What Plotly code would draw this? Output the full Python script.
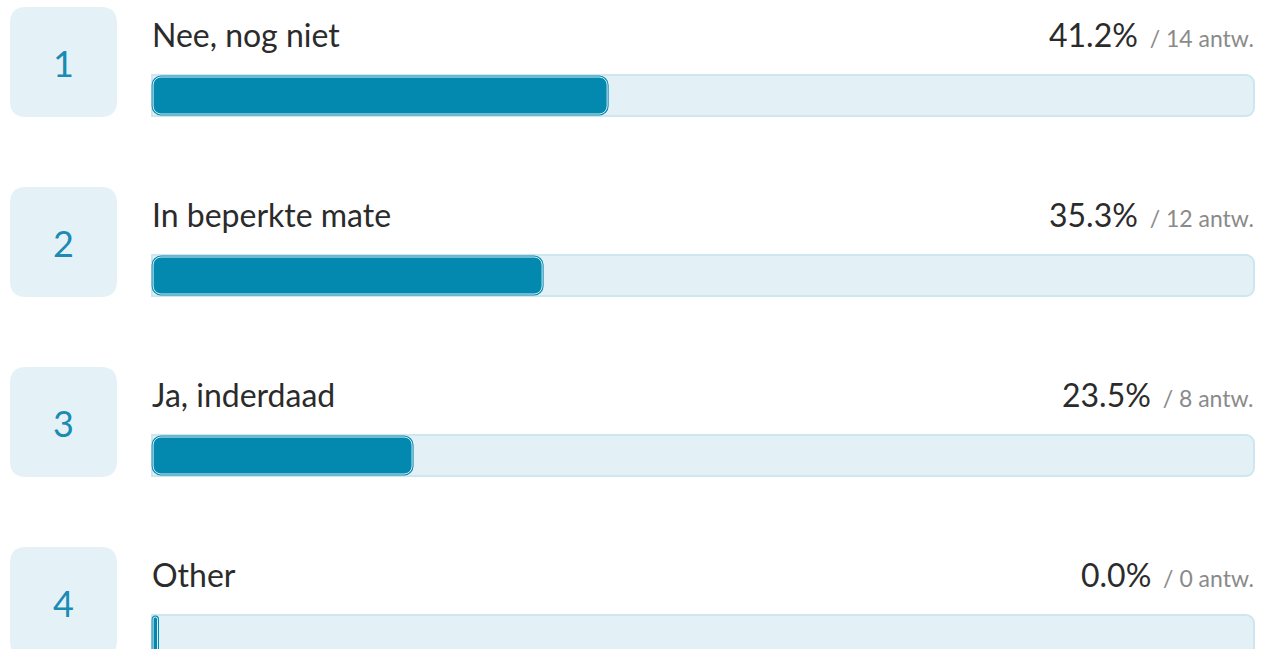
import plotly.graph_objects as go
import numpy as np

# ---- data ----
ranks = ["1", "2", "3", "4"]
labels = ["Nee, nog niet", "In beperkte mate", "Ja, inderdaad", "Other"]
percents = [41.2, 35.3, 23.5, 0.0]
counts = [14, 12, 8, 0]

# ---- layout geometry (pixels) ----
W, H = 1267, 649
TRACK_L, TRACK_R = 152, 1254
ROW0, PITCH = 95.5, 180
BAR_H = 41

px_per_unit = (TRACK_R - TRACK_L) / 100.0
x_range = [-TRACK_L / px_per_unit, (W - TRACK_L) / px_per_unit]
y_range = [(H - ROW0) / PITCH, -ROW0 / PITCH]


def px2x(p):
    return (p - TRACK_L) / px_per_unit


def dpy(d):
    return d / PITCH


def rounded_rect(x0p, x1p, ycen, top_off, bot_off, rp):
    """rounded rect path; x in px, y offsets in px relative to row center (data)."""
    x0, x1 = px2x(x0p), px2x(x1p)
    y0, y1 = ycen + dpy(top_off), ycen + dpy(bot_off)
    rx, ry = rp / px_per_unit, dpy(rp)
    return (f"M{x0+rx},{y0} L{x1-rx},{y0} Q{x1},{y0} {x1},{y0+ry} "
            f"L{x1},{y1-ry} Q{x1},{y1} {x1-rx},{y1} L{x0+rx},{y1} "
            f"Q{x0},{y1} {x0},{y1-ry} L{x0},{y0+ry} Q{x0},{y0} {x0+rx},{y0} Z")


TEAL = "#0388b0"
TRACK = "#e3f1f6"
TRACK_LINE = "#cde6ef"
TEXT = "#2b2b2b"
GREY = "#8a8a8a"
FONT = "Source Sans Pro, Lato, sans-serif"

rows = list(range(len(labels)))
min_visible = 0.4
disp = np.maximum(np.array(percents), min_visible)

fig = go.Figure()
fig.add_trace(go.Bar(
    y=rows, x=[100] * len(rows), orientation="h", width=BAR_H / PITCH,
    marker=dict(color=TRACK, line=dict(color=TRACK_LINE, width=2), cornerradius=8),
    hoverinfo="skip", showlegend=False))
fig.add_trace(go.Bar(
    y=rows, x=disp, orientation="h", width=(BAR_H - 4) / PITCH, base=0.1,
    marker=dict(color=TEAL, line=dict(color=TEAL, width=3), cornerradius=8),
    hoverinfo="skip", showlegend=False))
fig.add_trace(go.Bar(
    y=rows, x=disp, orientation="h", width=(BAR_H - 4) / PITCH, base=0.1,
    marker=dict(color=TEAL, line=dict(color="rgba(255,255,255,0.85)", width=1), cornerradius=8),
    hoverinfo="skip", showlegend=False))

shapes = []
annotations = []
for r in rows:
    shapes.append(dict(type="path", xref="x", yref="y",
                       path=rounded_rect(10, 117, r, -88.5, 21.5, 16),
                       fillcolor="#e4f2f7", line=dict(width=0), layer="below"))
    annotations.append(dict(x=px2x(63.5), y=r - dpy(33), xref="x", yref="y",
                            text=ranks[r], showarrow=False,
                            font=dict(family=FONT, size=36, color="#1a8bb3"),
                            xanchor="center", yanchor="middle"))
    annotations.append(dict(x=0, y=r - dpy(61.5), xref="x", yref="y",
                            text=labels[r], showarrow=False,
                            font=dict(family=FONT, size=32, color=TEXT),
                            xanchor="left", yanchor="middle", xshift=-2))
    annotations.append(dict(x=100, y=r - dpy(61.5), xref="x", yref="y",
                            text=f"{percents[r]:.1f}%<span style='font-size:23px;color:{GREY}'>"
                                 f"  / {counts[r]} antw.</span>",
                            showarrow=False,
                            font=dict(family=FONT, size=32, color=TEXT),
                            xanchor="right", yanchor="middle", xshift=2))

fig.update_layout(
    width=W, height=H,
    margin=dict(l=0, r=0, t=0, b=0),
    paper_bgcolor="white", plot_bgcolor="white",
    barmode="overlay",
    xaxis=dict(range=x_range, visible=False, fixedrange=True),
    yaxis=dict(range=y_range, visible=False, fixedrange=True),
    shapes=shapes, annotations=annotations,
)

fig.write_html("out.html", config={"displayModeBar": False},
               post_script="document.body.style.margin='0';document.body.style.overflow='hidden';")
